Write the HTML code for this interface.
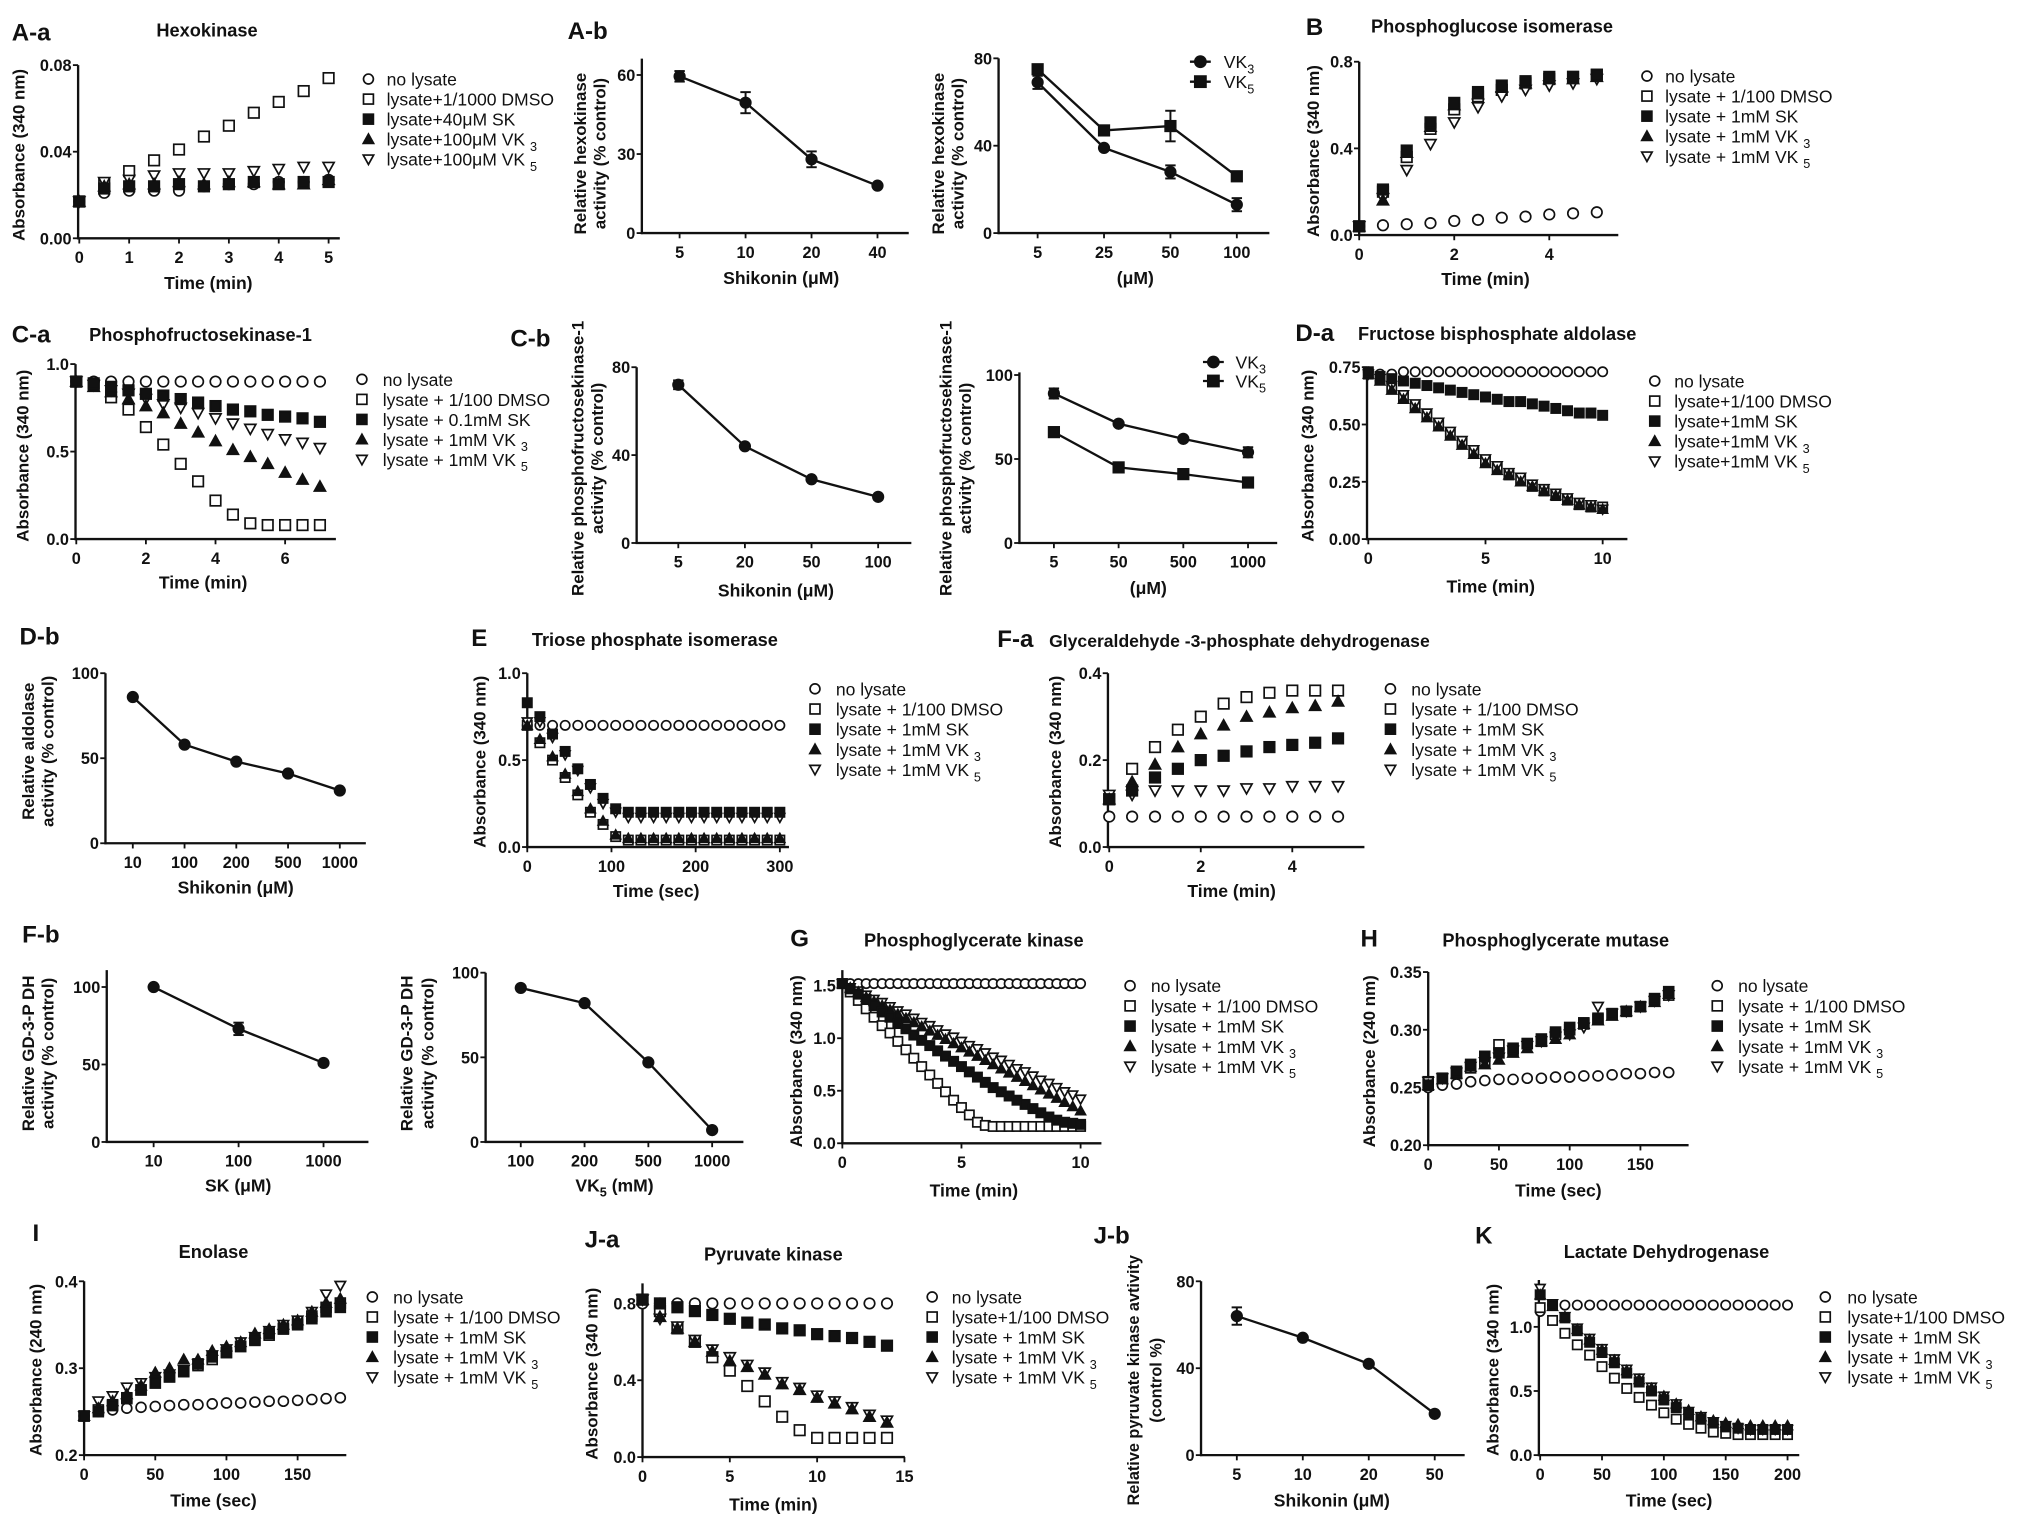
<!DOCTYPE html>
<html><head><meta charset="utf-8"><title>Glycolytic enzyme assays</title>
<style>
html,body{margin:0;padding:0;background:#fff;}
svg{display:block;}
text{font-family:"Liberation Sans",Arial,sans-serif;fill:#111;}
</style></head>
<body>
<svg id="fig" xmlns="http://www.w3.org/2000/svg" width="2031" height="1530" viewBox="0 0 1560 1175" preserveAspectRatio="none">
<rect x="0" y="0" width="1560" height="1175" fill="#fff"/>
</svg>
<script>
// ---------------- DATA ----------------
// A-a Hexokinase
const aaTime=[0,0.5,1,1.5,2,2.5,3,3.5,4,4.5,5];
const aaNo=[0.017,0.021,0.022,0.022,0.022,0.024,0.025,0.025,0.026,0.026,0.027];
const aaDMSO=[0.017,0.025,0.031,0.036,0.041,0.047,0.052,0.058,0.063,0.068,0.074];
const aaSK=[0.017,0.023,0.024,0.024,0.025,0.024,0.025,0.026,0.025,0.026,0.026];
const aaVK3=[0.017,0.024,0.025,0.025,0.026,0.025,0.026,0.026,0.025,0.025,0.027];
const aaVK5=[0.017,0.026,0.027,0.029,0.030,0.030,0.030,0.031,0.032,0.033,0.033];
// A-b
const abSKCats=["5","10","20","40"];
const abSKVals=[59.5,49.5,28,18];
const abSKErr=[2,4,3,0];
const abVKCats=["5","25","50","100"];
const abVK3Vals=[69,39,28,13];
const abVK3Err=[3,0,3,3];
const abVK5Vals=[75,47,49,26];
const abVK5Err=[0,2,7,0];
// B
const bTime=[0,0.5,1,1.5,2,2.5,3,3.5,4,4.5,5];
const bNo=[0.04,0.045,0.05,0.055,0.065,0.07,0.08,0.085,0.095,0.1,0.105];
const bDMSO=[0.04,0.2,0.36,0.49,0.58,0.64,0.67,0.7,0.72,0.73,0.74];
const bSK=[0.04,0.21,0.39,0.52,0.61,0.66,0.69,0.71,0.73,0.73,0.74];
const bVK3=[0.04,0.16,0.38,0.5,0.6,0.65,0.68,0.7,0.72,0.72,0.73];
const bVK5=[0.04,0.17,0.3,0.42,0.52,0.59,0.64,0.67,0.69,0.7,0.72];
// C-a
const caTime=[0,0.5,1,1.5,2,2.5,3,3.5,4,4.5,5,5.5,6,6.5,7];
const caNo=[0.9,0.9,0.9,0.9,0.9,0.9,0.9,0.9,0.9,0.9,0.9,0.9,0.9,0.9,0.9];
const caDMSO=[0.9,0.88,0.81,0.74,0.64,0.54,0.43,0.33,0.22,0.14,0.09,0.08,0.08,0.08,0.08];
const caSK=[0.9,0.89,0.87,0.85,0.83,0.82,0.8,0.78,0.76,0.74,0.73,0.71,0.7,0.69,0.67];
const caVK3=[0.9,0.87,0.84,0.8,0.76,0.72,0.66,0.61,0.56,0.51,0.47,0.43,0.38,0.34,0.3];
const caVK5=[0.9,0.88,0.85,0.83,0.8,0.77,0.75,0.72,0.69,0.66,0.63,0.6,0.57,0.55,0.52];
// C-b
const cbSKCats=["5","20","50","100"];
const cbSKVals=[72,44,29,21];
const cbSKErr=[2,0,0,0];
const cbVKCats=["5","50","500","1000"];
const cbVK3Vals=[89,71,62,54];
const cbVK3Err=[3,0,0,3];
const cbVK5Vals=[66,45,41,36];
const cbVK5Err=[0,0,0,0];
// D-a
const daTime=[0,0.5,1,1.5,2,2.5,3,3.5,4,4.5,5,5.5,6,6.5,7,7.5,8,8.5,9,9.5,10];
const daNo=[0.73,0.72,0.72,0.73,0.73,0.73,0.73,0.73,0.73,0.73,0.73,0.73,0.73,0.73,0.73,0.73,0.73,0.73,0.73,0.73,0.73];
const daDMSO=[0.72,0.7,0.66,0.62,0.58,0.54,0.5,0.46,0.42,0.38,0.34,0.31,0.28,0.26,0.23,0.21,0.19,0.17,0.15,0.14,0.14];
const daSK=[0.73,0.71,0.7,0.69,0.68,0.67,0.66,0.65,0.64,0.63,0.62,0.61,0.6,0.6,0.59,0.58,0.57,0.56,0.55,0.55,0.54];
const daVK3=[0.72,0.69,0.65,0.61,0.57,0.53,0.49,0.45,0.41,0.37,0.33,0.3,0.28,0.25,0.23,0.21,0.19,0.17,0.15,0.14,0.13];
const daVK5=[0.72,0.7,0.67,0.63,0.59,0.55,0.51,0.47,0.43,0.39,0.35,0.32,0.29,0.27,0.24,0.22,0.2,0.18,0.16,0.15,0.13];
// D-b
const dbCats=["10","100","200","500","1000"];
const dbVals=[86,58,48,41,31];
// E
const eTime=[0,15,30,45,60,75,90,105,120,135,150,165,180,195,210,225,240,255,270,285,300];
const eNo=[0.7,0.7,0.7,0.7,0.7,0.7,0.7,0.7,0.7,0.7,0.7,0.7,0.7,0.7,0.7,0.7,0.7,0.7,0.7,0.7,0.7];
const eDMSO=[0.7,0.6,0.5,0.4,0.3,0.2,0.13,0.06,0.04,0.04,0.04,0.04,0.04,0.04,0.04,0.04,0.04,0.04,0.04,0.04,0.04];
const eSK=[0.83,0.75,0.65,0.55,0.45,0.36,0.28,0.22,0.2,0.2,0.2,0.2,0.2,0.2,0.2,0.2,0.2,0.2,0.2,0.2,0.2];
const eVK3=[0.7,0.62,0.52,0.42,0.32,0.22,0.15,0.07,0.05,0.05,0.05,0.05,0.05,0.05,0.05,0.05,0.05,0.05,0.05,0.05,0.05];
const eVK5=[0.72,0.72,0.63,0.53,0.44,0.34,0.25,0.2,0.17,0.17,0.17,0.17,0.17,0.17,0.17,0.17,0.17,0.17,0.17,0.17,0.17];
// F-a
const faTime=[0,0.5,1,1.5,2,2.5,3,3.5,4,4.5,5];
const faNo=[0.07,0.07,0.07,0.07,0.07,0.07,0.07,0.07,0.07,0.07,0.07];
const faDMSO=[0.11,0.18,0.23,0.27,0.3,0.33,0.345,0.355,0.36,0.36,0.36];
const faSK=[0.11,0.13,0.16,0.18,0.2,0.21,0.22,0.23,0.235,0.24,0.25];
const faVK3=[0.11,0.15,0.19,0.23,0.26,0.28,0.3,0.31,0.32,0.325,0.335];
const faVK5=[0.12,0.12,0.13,0.13,0.13,0.13,0.135,0.135,0.14,0.14,0.14];
// F-b
const fbSKCats=["10","100","1000"];
const fbSKVals=[100,73,51];
const fbSKErr=[0,4,0];
const fbVKCats=["100","200","500","1000"];
const fbVK5Vals=[91,82,47,7];
// G
const gTime=[0,0.33,0.67,1,1.33,1.67,2,2.33,2.67,3,3.33,3.67,4,4.33,4.67,5,5.33,5.67,6,6.33,6.67,7,7.33,7.67,8,8.33,8.67,9,9.33,9.67,10];
const gNo=[1.52,1.52,1.52,1.52,1.52,1.52,1.52,1.52,1.52,1.52,1.52,1.52,1.52,1.52,1.52,1.52,1.52,1.52,1.52,1.52,1.52,1.52,1.52,1.52,1.52,1.52,1.52,1.52,1.52,1.52,1.52];
const gDMSO=[1.52,1.44,1.36,1.28,1.2,1.12,1.05,0.97,0.89,0.81,0.73,0.65,0.57,0.49,0.41,0.34,0.27,0.2,0.17,0.16,0.16,0.16,0.16,0.16,0.16,0.16,0.16,0.16,0.16,0.16,0.16];
const gSK=[1.52,1.47,1.42,1.37,1.31,1.25,1.2,1.14,1.09,1.03,0.98,0.93,0.88,0.83,0.78,0.73,0.68,0.63,0.58,0.53,0.49,0.45,0.41,0.37,0.33,0.29,0.25,0.22,0.2,0.19,0.18];
const gVK3=[1.52,1.48,1.44,1.39,1.35,1.31,1.27,1.23,1.19,1.15,1.11,1.07,1.03,0.99,0.95,0.91,0.87,0.83,0.79,0.75,0.71,0.67,0.63,0.59,0.55,0.51,0.47,0.43,0.39,0.35,0.31];
const gVK5=[1.52,1.48,1.45,1.41,1.37,1.34,1.3,1.26,1.23,1.19,1.15,1.12,1.08,1.04,1.01,0.97,0.93,0.9,0.86,0.82,0.79,0.75,0.71,0.68,0.64,0.6,0.57,0.53,0.49,0.46,0.42];
// H
const hTime=[0,10,20,30,40,50,60,70,80,90,100,110,120,130,140,150,160,170];
const hNo=[0.25,0.252,0.253,0.255,0.256,0.257,0.257,0.258,0.258,0.259,0.259,0.26,0.26,0.261,0.262,0.262,0.263,0.263];
const hDMSO=[0.255,0.258,0.262,0.267,0.272,0.287,0.282,0.288,0.29,0.296,0.3,0.305,0.309,0.313,0.316,0.32,0.325,0.33];
const hSK=[0.252,0.258,0.264,0.27,0.277,0.28,0.284,0.288,0.292,0.298,0.302,0.306,0.31,0.314,0.316,0.32,0.327,0.333];
const hVK3=[0.252,0.257,0.262,0.268,0.27,0.274,0.28,0.284,0.29,0.292,0.296,0.305,0.308,0.312,0.316,0.32,0.324,0.331];
const hVK5=[0.255,0.258,0.263,0.268,0.272,0.276,0.282,0.286,0.29,0.294,0.296,0.302,0.32,0.314,0.316,0.32,0.325,0.33];
// I
const iTime=[0,10,20,30,40,50,60,70,80,90,100,110,120,130,140,150,160,170,180];
const iNo=[0.245,0.25,0.252,0.254,0.255,0.256,0.257,0.258,0.258,0.259,0.26,0.26,0.261,0.262,0.262,0.263,0.264,0.265,0.266];
const iDMSO=[0.245,0.252,0.258,0.266,0.275,0.283,0.29,0.297,0.303,0.31,0.318,0.325,0.332,0.338,0.345,0.352,0.36,0.37,0.375];
const iSK=[0.245,0.25,0.257,0.265,0.275,0.283,0.29,0.296,0.305,0.313,0.318,0.325,0.333,0.34,0.346,0.35,0.357,0.365,0.37];
const iVK3=[0.245,0.254,0.262,0.27,0.28,0.295,0.3,0.31,0.31,0.32,0.325,0.33,0.34,0.345,0.35,0.355,0.365,0.375,0.38];
const iVK5=[0.245,0.262,0.268,0.278,0.283,0.29,0.293,0.298,0.305,0.315,0.322,0.33,0.336,0.343,0.35,0.355,0.365,0.385,0.395];
// J-a
const jaTime=[0,1,2,3,4,5,6,7,8,9,10,11,12,13,14];
const jaNo=[0.8,0.8,0.8,0.8,0.8,0.8,0.8,0.8,0.8,0.8,0.8,0.8,0.8,0.8,0.8];
const jaDMSO=[0.82,0.76,0.67,0.6,0.52,0.45,0.37,0.29,0.21,0.14,0.1,0.1,0.1,0.1,0.1];
const jaSK=[0.82,0.8,0.78,0.76,0.74,0.72,0.7,0.69,0.67,0.66,0.64,0.63,0.62,0.6,0.58];
const jaVK3=[0.82,0.73,0.67,0.6,0.55,0.5,0.47,0.43,0.38,0.35,0.31,0.28,0.25,0.21,0.18];
const jaVK5=[0.82,0.72,0.68,0.61,0.56,0.52,0.48,0.44,0.39,0.36,0.32,0.29,0.26,0.22,0.19];
// J-b
const jbCats=["5","10","20","50"];
const jbVals=[64,54,42,19];
const jbErr=[4,0,0,0];
// K
const kTime=[0,10,20,30,40,50,60,70,80,90,100,110,120,130,140,150,160,170,180,190,200];
const kNo=[1.12,1.17,1.17,1.17,1.17,1.17,1.17,1.17,1.17,1.17,1.17,1.17,1.17,1.17,1.17,1.17,1.17,1.17,1.17,1.17,1.17];
const kDMSO=[1.15,1.05,0.95,0.86,0.78,0.69,0.6,0.52,0.45,0.39,0.33,0.28,0.24,0.21,0.18,0.17,0.16,0.16,0.16,0.16,0.16];
const kSK=[1.25,1.17,1.07,0.97,0.88,0.8,0.72,0.64,0.57,0.5,0.43,0.37,0.32,0.28,0.25,0.22,0.21,0.2,0.2,0.2,0.2];
const kVK3=[1.25,1.16,1.08,0.98,0.9,0.82,0.74,0.66,0.59,0.52,0.46,0.4,0.35,0.3,0.27,0.25,0.24,0.23,0.23,0.23,0.23];
const kVK5=[1.3,1.18,1.08,0.99,0.91,0.83,0.75,0.67,0.6,0.53,0.46,0.4,0.34,0.3,0.26,0.23,0.21,0.2,0.2,0.2,0.2];

// ---------------- DRAWING ----------------
const NS="http://www.w3.org/2000/svg";
const root=document.getElementById('fig');
function mk(tag,parent){const e=document.createElementNS(NS,tag);parent.appendChild(e);return e;}
function lin(d0,d1,p0,p1){return v=>p0+(v-d0)*(p1-p0)/(d1-d0);}
function txt(parent,str,x,y,size,weight,anchor){
  const t=mk('text',parent);
  t.setAttribute('x',x);t.setAttribute('y',y);
  t.setAttribute('font-size',size);t.setAttribute('font-weight',weight);
  t.setAttribute('text-anchor',anchor);
  const parts=str.split(/_(\d)/);
  for(let i=0;i<parts.length;i++){
    if(parts[i]==='')continue;
    const s=mk('tspan',t);
    s.textContent=parts[i];
    if(i%2===1){s.setAttribute('dy','4');s.setAttribute('font-size',size*0.72);}
    else if(i>0){s.setAttribute('dy','-4');}
  }
  return t;
}
function marker(g,type,cx,cy,s){
  let e;
  const r=s/2;
  if(type==='o'||type==='D'){e=mk('circle',g);e.setAttribute('cx',cx);e.setAttribute('cy',cy);e.setAttribute('r',r*0.95);}
  else if(type==='s'||type==='S'){e=mk('rect',g);e.setAttribute('x',cx-r*0.95);e.setAttribute('y',cy-r*0.95);e.setAttribute('width',r*1.9);e.setAttribute('height',r*1.9);}
  else if(type==='^'){e=mk('polygon',g);e.setAttribute('points',`${cx},${cy-r} ${cx-r},${cy+r*0.8} ${cx+r},${cy+r*0.8}`);}
  else {e=mk('polygon',g);e.setAttribute('points',`${cx},${cy+r} ${cx-r},${cy-r*0.8} ${cx+r},${cy-r*0.8}`);}
  const filled=(type==='S'||type==='^'||type==='D');
  e.setAttribute('fill',filled?'#111':'#fff');
  e.setAttribute('stroke','#111');
  e.setAttribute('stroke-width','1.3');
  return e;
}
function line(g,x1,y1,x2,y2,w){const l=mk('line',g);l.setAttribute('x1',x1);l.setAttribute('y1',y1);l.setAttribute('x2',x2);l.setAttribute('y2',y2);l.setAttribute('stroke','#111');l.setAttribute('stroke-width',w||1.6);return l;}

function panel(P){
  const g=mk('g',root);
  
  
  const sx=lin(P.xd[0],P.xd[1],P.xa[0],P.xa[1]);
  const sy=lin(P.yd[0],P.yd[1],P.ya[0],P.ya[1]);
  const yb=P.ya[0];
  const ya=line(g,P.axL,P.axTop,P.axL,yb+0.8,1.8);
  
  
  const xa=line(g,P.axL-0.8,yb,P.axR,yb,1.8);
  
  
  P.yt.forEach((v,i)=>{
    const y=sy(v);
    line(g,P.axL-4,y,P.axL,y,1.4);
    const t=txt(g,P.ytl[i],P.axL-5,y+4.6,12.5,'bold','end');
    
    
  });
  P.xt.forEach((v,i)=>{
    const x=sx(v);
    line(g,x,yb,x,yb+4,1.4);
    const t=txt(g,P.xtl[i],x,yb+19,12.5,'bold','middle');
    
    
  });
  P.ylab.forEach((s,i)=>{
    const x=P.ylx[i];
    const t=txt(g,s,0,0,P.ylfs||13,'bold','middle');
    t.setAttribute('transform',`translate(${x},${P.yly}) rotate(-90)`);
    
    
  });
  const xl=txt(g,P.xlab,P.xlx,P.xly,13.5,'bold','middle');
  
  
  if(P.title){
    const tt=txt(g,P.title,P.tx,P.ty,P.tfs||14,'bold','middle');
    
    
  }
  if(P.label){
    const lt=txt(g,P.label,P.lx,P.ly,18.5,'bold','start');
    
    
  }
  const order=P.order||P.series.map((_,i)=>i);
  order.forEach(k=>{
    const S=P.series[k];
    const sg=mk('g',g);
    
    
    if(S.line){
      const pl=mk('polyline',sg);
      pl.setAttribute('points',S.y.map((v,i)=>sx(S.x[i])+','+sy(v)).join(' '));
      pl.setAttribute('fill','none');pl.setAttribute('stroke','#111');pl.setAttribute('stroke-width','1.8');
    }
    S.y.forEach((v,i)=>{
      const cx=sx(S.x[i]),cy=sy(v);
      if(S.err&&S.err[i]>0){
        const e1=sy(v+S.err[i]),e2=sy(v-S.err[i]);
        line(sg,cx,e1,cx,e2,1.5);line(sg,cx-4,e1,cx+4,e1,1.5);line(sg,cx-4,e2,cx+4,e2,1.5);
      }
      const m=marker(sg,S.m,cx,cy,P.ms||8);
      
      
    });
  });
  if(P.leg){
    const lg=mk('g',g);
    
    
    P.leg.forEach((L,i)=>{
      const y=P.legY+i*P.legDy;
      const eg=mk('g',lg);
      
      
      if(L.line){line(eg,P.legX-8,y,P.legX+8,y,1.8);}
      marker(eg,L.m,P.legX,y,L.line?9:8);
      txt(eg,L.t,P.legTx,y+5,13.5,'normal','start');
    });
  }
}
function idx(a){return a.map((_,i)=>i);}
const M5=['o','s','S','^','v'];
const KORD=[0,1,4,3,2];
function leg(labels){return labels.map((t,i)=>({t:t,m:M5[i]}));}
function kin(prefix,t,arrs){
  const names=['no-lysate','dmso','sk','vk3','vk5'];
  return arrs.map((a,i)=>({name:prefix+'-'+names[i],x:t,y:a,m:M5[i]}));
}
const STD=["no lysate","lysate + 1/100 DMSO","lysate + 1mM SK","lysate + 1mM VK _3","lysate + 1mM VK _5"];

panel({name:'panel-a-a',xd:[0,5],xa:[60.9,252.4],yd:[0,0.08],ya:[183,50],axL:60,axR:261,axTop:50,
  yt:[0,0.04,0.08],ytl:["0.00","0.04","0.08"],xt:[0,1,2,3,4,5],xtl:["0","1","2","3","4","5"],
  ylab:["Absorbance (340 nm)"],ylx:[19],yly:119,xlab:"Time (min)",xlx:160,xly:222,
  title:"Hexokinase",tx:159,ty:28,label:"A-a",lx:9,ly:31,ms:8.5,order:KORD,
  series:kin('hexokinase',aaTime,[aaNo,aaDMSO,aaSK,aaVK3,aaVK5]),
  leg:leg(["no lysate","lysate+1/1000 DMSO","lysate+40μM SK","lysate+100μM VK _3","lysate+100μM VK _5"]),legX:283,legTx:297,legY:60.7,legDy:15.4});
panel({name:'panel-a-b-shikonin',xd:[0,3],xa:[522,674],yd:[0,60],ya:[179,57.6],axL:493,axR:698,axTop:45,
  yt:[0,30,60],ytl:["0","30","60"],xt:idx(abSKCats),xtl:abSKCats,
  ylab:["Relative  hexokinase","activity (% control)"],ylx:[450,465],yly:118,xlab:"Shikonin (μM)",xlx:600,xly:218,
  label:"A-b",lx:436,ly:30,ms:8.5,
  series:[{name:'shikonin-hexokinase',x:idx(abSKCats),y:abSKVals,err:abSKErr,m:'D',line:true}]});
panel({name:'panel-a-b-vk',xd:[0,3],xa:[797,950],yd:[0,80],ya:[179,44.8],axL:767,axR:975,axTop:44.8,
  yt:[0,40,80],ytl:["0","40","80"],xt:idx(abVKCats),xtl:abVKCats,
  ylab:["Relative  hexokinase","activity (% control)"],ylx:[725,740],yly:118,xlab:"(μM)",xlx:872,xly:218,ms:8.5,
  series:[{name:'vk3-hexokinase',x:idx(abVKCats),y:abVK3Vals,err:abVK3Err,m:'D',line:true},
          {name:'vk5-hexokinase',x:idx(abVKCats),y:abVK5Vals,err:abVK5Err,m:'S',line:true}],
  leg:[{t:"VK_3",m:'D',line:true},{t:"VK_5",m:'S',line:true}],legX:922,legTx:940,legY:47.4,legDy:15.3});
panel({name:'panel-b',xd:[0,4],xa:[1044,1190],yd:[0,0.8],ya:[180.5,47.4],axL:1044,axR:1243,axTop:47.4,
  yt:[0,0.4,0.8],ytl:["0.0","0.4","0.8"],xt:[0,2,4],xtl:["0","2","4"],
  ylab:["Absorbance (340 nm)"],ylx:[1013],yly:116,xlab:"Time (min)",xlx:1141,xly:219,
  title:"Phosphoglucose isomerase",tx:1146,ty:25,label:"B",lx:1003,ly:27,ms:8.5,order:KORD,
  series:kin('phosphoglucose-isomerase',bTime,[bNo,bDMSO,bSK,bVK3,bVK5]),
  leg:leg(STD),legX:1265,legTx:1279,legY:58.4,legDy:15.4});
panel({name:'panel-c-a',xd:[0,6],xa:[58.6,219],yd:[0,1],ya:[414,279.6],axL:58,axR:258,axTop:279.6,
  yt:[0,0.5,1],ytl:["0.0","0.5","1.0"],xt:[0,2,4,6],xtl:["0","2","4","6"],
  ylab:["Absorbance (340 nm)"],ylx:[22],yly:350,xlab:"Time (min)",xlx:156,xly:452,
  title:"Phosphofructosekinase-1",tx:154,ty:262,label:"C-a",lx:9,ly:263,ms:8.5,order:KORD,
  series:kin('pfk1',caTime,[caNo,caDMSO,caSK,caVK3,caVK5]),
  leg:leg(["no lysate","lysate + 1/100 DMSO","lysate + 0.1mM SK","lysate + 1mM VK _3","lysate + 1mM VK _5"]),legX:278,legTx:294,legY:291.3,legDy:15.4});
panel({name:'panel-c-b-shikonin',xd:[0,3],xa:[521,674.5],yd:[0,80],ya:[417,282],axL:489,axR:700,axTop:282,
  yt:[0,40,80],ytl:["0","40","80"],xt:idx(cbSKCats),xtl:cbSKCats,
  ylab:["Relative  phosphofructosekinase-1","activity (% control)"],ylx:[448,463],yly:352,xlab:"Shikonin (μM)",xlx:596,xly:458,
  label:"C-b",lx:392,ly:266,ms:8.5,
  series:[{name:'shikonin-pfk1',x:idx(cbSKCats),y:cbSKVals,err:cbSKErr,m:'D',line:true}]});
panel({name:'panel-c-b-vk',xd:[0,3],xa:[809.5,958.6],yd:[0,100],ya:[417,288],axL:783,axR:981,axTop:286,
  yt:[0,50,100],ytl:["0","50","100"],xt:idx(cbVKCats),xtl:cbVKCats,
  ylab:["Relative  phosphofructosekinase-1","activity (% control)"],ylx:[731,746],yly:352,xlab:"(μM)",xlx:882,xly:456,ms:8.5,
  series:[{name:'vk3-pfk1',x:idx(cbVKCats),y:cbVK3Vals,err:cbVK3Err,m:'D',line:true},
          {name:'vk5-pfk1',x:idx(cbVKCats),y:cbVK5Vals,err:cbVK5Err,m:'S',line:true}],
  leg:[{t:"VK_3",m:'D',line:true},{t:"VK_5",m:'S',line:true}],legX:932,legTx:949,legY:278,legDy:14.6});
panel({name:'panel-d-a',xd:[0,10],xa:[1051,1231],yd:[0,0.75],ya:[414,282],axL:1050,axR:1250,axTop:282,
  yt:[0,0.25,0.5,0.75],ytl:["0.00","0.25","0.50","0.75"],xt:[0,5,10],xtl:["0","5","10"],
  ylab:["Absorbance (340 nm)"],ylx:[1009],yly:350,xlab:"Time (min)",xlx:1145,xly:455,
  title:"Fructose bisphosphate aldolase",tx:1150,ty:261,label:"D-a",lx:995,ly:262,ms:7.5,order:KORD,
  series:kin('aldolase',daTime,[daNo,daDMSO,daSK,daVK3,daVK5]),
  leg:leg(["no lysate","lysate+1/100 DMSO","lysate+1mM SK","lysate+1mM VK _3","lysate+1mM VK _5"]),legX:1271,legTx:1286,legY:292.6,legDy:15.4});
panel({name:'panel-d-b',xd:[0,4],xa:[102,261],yd:[0,100],ya:[647.6,517],axL:81,axR:281,axTop:517,
  yt:[0,50,100],ytl:["0","50","100"],xt:idx(dbCats),xtl:dbCats,
  ylab:["Relative  aldolase","activity (% control)"],ylx:[26,41],yly:577,xlab:"Shikonin (μM)",xlx:181,xly:686,
  label:"D-b",lx:15,ly:495,ms:8.5,
  series:[{name:'shikonin-aldolase',x:idx(dbCats),y:dbVals,m:'D',line:true}]});
panel({name:'panel-e',xd:[0,300],xa:[405,599],yd:[0,1],ya:[650.5,517],axL:405,axR:606,axTop:517,
  yt:[0,0.5,1],ytl:["0.0","0.5","1.0"],xt:[0,100,200,300],xtl:["0","100","200","300"],
  ylab:["Absorbance (340 nm)"],ylx:[373],yly:585,xlab:"Time (sec)",xlx:504,xly:689,
  title:"Triose phosphate isomerase",tx:503,ty:496,label:"E",lx:362,ly:496,ms:7.5,order:KORD,
  series:kin('tpi',eTime,[eNo,eDMSO,eSK,eVK3,eVK5]),
  leg:leg(STD),legX:626,legTx:642,legY:529,legDy:15.5});
panel({name:'panel-f-a',xd:[0,4],xa:[852,992.6],yd:[0,0.4],ya:[650.5,517],axL:851,axR:1048,axTop:517,
  yt:[0,0.2,0.4],ytl:["0.0","0.2","0.4"],xt:[0,2,4],xtl:["0","2","4"],
  ylab:["Absorbance (340 nm)"],ylx:[815],yly:585,xlab:"Time (min)",xlx:946,xly:689,
  title:"Glyceraldehyde -3-phosphate dehydrogenase",tx:952,ty:497,tfs:13.5,label:"F-a",lx:766,ly:497,ms:8.5,order:KORD,
  series:kin('gapdh',faTime,[faNo,faDMSO,faSK,faVK3,faVK5]),
  leg:leg(STD),legX:1068,legTx:1084,legY:529,legDy:15.5});
panel({name:'panel-f-b-sk',xd:[0,2],xa:[118,248.5],yd:[0,100],ya:[877,758],axL:82,axR:283,axTop:745,
  yt:[0,50,100],ytl:["0","50","100"],xt:idx(fbSKCats),xtl:fbSKCats,
  ylab:["Relative  GD-3-P DH","activity (% control)"],ylx:[26,41],yly:809,xlab:"SK (μM)",xlx:183,xly:915,
  label:"F-b",lx:17,ly:724,ms:8.5,
  series:[{name:'sk-gapdh',x:idx(fbSKCats),y:fbSKVals,err:fbSKErr,m:'D',line:true}]});
panel({name:'panel-f-b-vk5',xd:[0,3],xa:[400,547],yd:[0,100],ya:[877,747],axL:373,axR:571,axTop:747,
  yt:[0,50,100],ytl:["0","50","100"],xt:idx(fbVKCats),xtl:fbVKCats,
  ylab:["Relative  GD-3-P DH","activity (% control)"],ylx:[317,333],yly:809,xlab:"VK_5 (mM)",xlx:472,xly:915,ms:8.5,
  series:[{name:'vk5-gapdh',x:idx(fbVKCats),y:fbVK5Vals,m:'D',line:true}]});
panel({name:'panel-g',xd:[0,10],xa:[647,830],yd:[0,1.5],ya:[878,757],axL:647,axR:846,axTop:745,
  yt:[0,0.5,1,1.5],ytl:["0.0","0.5","1.0","1.5"],xt:[0,5,10],xtl:["0","5","10"],
  ylab:["Absorbance (340 nm)"],ylx:[616],yly:815,xlab:"Time (min)",xlx:748,xly:919,
  title:"Phosphoglycerate kinase",tx:748,ty:727,label:"G",lx:607,ly:727,ms:7.5,order:KORD,
  series:kin('pgk',gTime,[gNo,gDMSO,gSK,gVK3,gVK5]),
  leg:leg(STD),legX:868,legTx:884,legY:757,legDy:15.5});
panel({name:'panel-h',xd:[0,150],xa:[1097,1260],yd:[0.2,0.35],ya:[879.5,746.5],axL:1097,axR:1297,axTop:746.5,
  yt:[0.2,0.25,0.3,0.35],ytl:["0.20","0.25","0.30","0.35"],xt:[0,50,100,150],xtl:["0","50","100","150"],
  ylab:["Absorbance (240 nm)"],ylx:[1056],yly:815,xlab:"Time (sec)",xlx:1197,xly:919,
  title:"Phosphoglycerate mutase",tx:1195,ty:727,label:"H",lx:1045,ly:727,ms:8,order:KORD,
  series:kin('pgm',hTime,[hNo,hDMSO,hSK,hVK3,hVK5]),
  leg:leg(STD),legX:1319,legTx:1335,legY:757,legDy:15.5});
panel({name:'panel-i',xd:[0,150],xa:[64.6,228.6],yd:[0.2,0.4],ya:[1117.5,984],axL:64.6,axR:266,axTop:984,
  yt:[0.2,0.3,0.4],ytl:["0.2","0.3","0.4"],xt:[0,50,100,150],xtl:["0","50","100","150"],
  ylab:["Absorbance (240 nm)"],ylx:[32],yly:1052,xlab:"Time (sec)",xlx:164,xly:1157,
  title:"Enolase",tx:164,ty:966,label:"I",lx:25,ly:953,ms:8,order:KORD,
  series:kin('enolase',iTime,[iNo,iDMSO,iSK,iVK3,iVK5]),
  leg:leg(STD),legX:286,legTx:302,legY:996,legDy:15.4});
panel({name:'panel-j-a',xd:[0,15],xa:[493.5,694.7],yd:[0,0.8],ya:[1119,1001],axL:493.5,axR:695,axTop:985.6,
  yt:[0,0.4,0.8],ytl:["0.0","0.4","0.8"],xt:[0,5,10,15],xtl:["0","5","10","15"],
  ylab:["Absorbance (340 nm)"],ylx:[459],yly:1055,xlab:"Time (min)",xlx:594,xly:1160,
  title:"Pyruvate kinase",tx:594,ty:968,label:"J-a",lx:449,ly:958,ms:8.5,order:KORD,
  series:kin('pyruvate-kinase',jaTime,[jaNo,jaDMSO,jaSK,jaVK3,jaVK5]),
  leg:leg(["no lysate","lysate+1/100 DMSO","lysate + 1mM SK","lysate + 1mM VK _3","lysate + 1mM VK _5"]),legX:716,legTx:731,legY:996,legDy:15.4});
panel({name:'panel-j-b',xd:[0,3],xa:[950,1102],yd:[0,80],ya:[1117.5,984],axL:922.5,axR:1125,axTop:984,
  yt:[0,40,80],ytl:["0","40","80"],xt:idx(jbCats),xtl:jbCats,
  ylab:["Relative  pyruvate  kinase  avtivity","(control %)"],ylx:[875,892],yly:1060,ylfs:12.5,xlab:"Shikonin (μM)",xlx:1023,xly:1157,
  label:"J-b",lx:840,ly:955,ms:8.5,
  series:[{name:'shikonin-pyruvate-kinase',x:idx(jbCats),y:jbVals,err:jbErr,m:'D',line:true}]});
panel({name:'panel-k',xd:[0,200],xa:[1183,1373],yd:[0,1],ya:[1117.5,1019],axL:1182,axR:1382,axTop:983,
  yt:[0,0.5,1],ytl:["0.0","0.5","1.0"],xt:[0,50,100,150,200],xtl:["0","50","100","150","200"],
  ylab:["Absorbance (340 nm)"],ylx:[1151],yly:1052,xlab:"Time (sec)",xlx:1282,xly:1157,
  title:"Lactate Dehydrogenase",tx:1280,ty:966,label:"K",lx:1133,ly:955,ms:7.5,order:KORD,
  series:kin('ldh',kTime,[kNo,kDMSO,kSK,kVK3,kVK5]),
  leg:leg(["no lysate","lysate+1/100 DMSO","lysate + 1mM SK","lysate + 1mM VK _3","lysate + 1mM VK _5"]),legX:1402,legTx:1419,legY:996,legDy:15.4});
</script>
</body></html>
